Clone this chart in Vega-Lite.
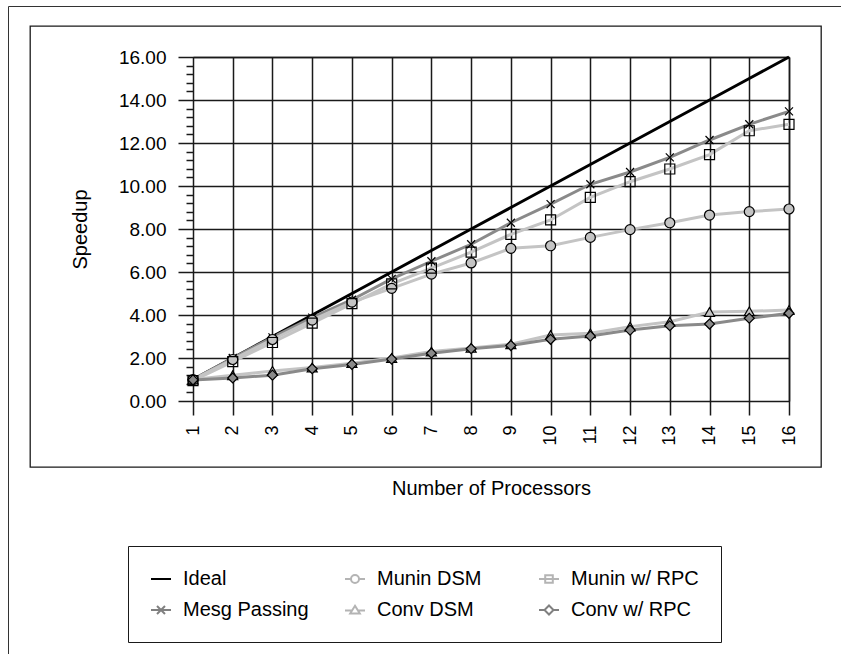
{
  "$schema": "https://vega.github.io/schema/vega-lite/v6.json",
  "autosize": "none",
  "width": 791,
  "height": 441,
  "padding": {"left": 30, "top": 26, "right": 20, "bottom": 187},
  "background": "white",
  "data": {
    "values": [
      {"n": 1, "series": "Ideal", "speedup": 1},
      {"n": 2, "series": "Ideal", "speedup": 2},
      {"n": 3, "series": "Ideal", "speedup": 3},
      {"n": 4, "series": "Ideal", "speedup": 4},
      {"n": 5, "series": "Ideal", "speedup": 5},
      {"n": 6, "series": "Ideal", "speedup": 6},
      {"n": 7, "series": "Ideal", "speedup": 7},
      {"n": 8, "series": "Ideal", "speedup": 8},
      {"n": 9, "series": "Ideal", "speedup": 9},
      {"n": 10, "series": "Ideal", "speedup": 10},
      {"n": 11, "series": "Ideal", "speedup": 11},
      {"n": 12, "series": "Ideal", "speedup": 12},
      {"n": 13, "series": "Ideal", "speedup": 13},
      {"n": 14, "series": "Ideal", "speedup": 14},
      {"n": 15, "series": "Ideal", "speedup": 15},
      {"n": 16, "series": "Ideal", "speedup": 16},
      {"n": 1, "series": "Mesg Passing", "speedup": 1.0},
      {"n": 2, "series": "Mesg Passing", "speedup": 2.0},
      {"n": 3, "series": "Mesg Passing", "speedup": 2.96},
      {"n": 4, "series": "Mesg Passing", "speedup": 3.88},
      {"n": 5, "series": "Mesg Passing", "speedup": 4.71},
      {"n": 6, "series": "Mesg Passing", "speedup": 5.68},
      {"n": 7, "series": "Mesg Passing", "speedup": 6.5},
      {"n": 8, "series": "Mesg Passing", "speedup": 7.29},
      {"n": 9, "series": "Mesg Passing", "speedup": 8.29},
      {"n": 10, "series": "Mesg Passing", "speedup": 9.16},
      {"n": 11, "series": "Mesg Passing", "speedup": 10.08},
      {"n": 12, "series": "Mesg Passing", "speedup": 10.65},
      {"n": 13, "series": "Mesg Passing", "speedup": 11.33},
      {"n": 14, "series": "Mesg Passing", "speedup": 12.14},
      {"n": 15, "series": "Mesg Passing", "speedup": 12.87},
      {"n": 16, "series": "Mesg Passing", "speedup": 13.47},
      {"n": 1, "series": "Munin DSM", "speedup": 1.0},
      {"n": 2, "series": "Munin DSM", "speedup": 1.93},
      {"n": 3, "series": "Munin DSM", "speedup": 2.86},
      {"n": 4, "series": "Munin DSM", "speedup": 3.76},
      {"n": 5, "series": "Munin DSM", "speedup": 4.6},
      {"n": 6, "series": "Munin DSM", "speedup": 5.24},
      {"n": 7, "series": "Munin DSM", "speedup": 5.9},
      {"n": 8, "series": "Munin DSM", "speedup": 6.42},
      {"n": 9, "series": "Munin DSM", "speedup": 7.1},
      {"n": 10, "series": "Munin DSM", "speedup": 7.22},
      {"n": 11, "series": "Munin DSM", "speedup": 7.61},
      {"n": 12, "series": "Munin DSM", "speedup": 7.97},
      {"n": 13, "series": "Munin DSM", "speedup": 8.29},
      {"n": 14, "series": "Munin DSM", "speedup": 8.65},
      {"n": 15, "series": "Munin DSM", "speedup": 8.81},
      {"n": 16, "series": "Munin DSM", "speedup": 8.93},
      {"n": 1, "series": "Munin w/ RPC", "speedup": 0.95},
      {"n": 2, "series": "Munin w/ RPC", "speedup": 1.83},
      {"n": 3, "series": "Munin w/ RPC", "speedup": 2.72},
      {"n": 4, "series": "Munin w/ RPC", "speedup": 3.62},
      {"n": 5, "series": "Munin w/ RPC", "speedup": 4.53},
      {"n": 6, "series": "Munin w/ RPC", "speedup": 5.45},
      {"n": 7, "series": "Munin w/ RPC", "speedup": 6.18},
      {"n": 8, "series": "Munin w/ RPC", "speedup": 6.92},
      {"n": 9, "series": "Munin w/ RPC", "speedup": 7.75},
      {"n": 10, "series": "Munin w/ RPC", "speedup": 8.42},
      {"n": 11, "series": "Munin w/ RPC", "speedup": 9.47},
      {"n": 12, "series": "Munin w/ RPC", "speedup": 10.2},
      {"n": 13, "series": "Munin w/ RPC", "speedup": 10.79},
      {"n": 14, "series": "Munin w/ RPC", "speedup": 11.46},
      {"n": 15, "series": "Munin w/ RPC", "speedup": 12.57},
      {"n": 16, "series": "Munin w/ RPC", "speedup": 12.87},
      {"n": 1, "series": "Conv DSM", "speedup": 1.0},
      {"n": 2, "series": "Conv DSM", "speedup": 1.2},
      {"n": 3, "series": "Conv DSM", "speedup": 1.4},
      {"n": 4, "series": "Conv DSM", "speedup": 1.56},
      {"n": 5, "series": "Conv DSM", "speedup": 1.76},
      {"n": 6, "series": "Conv DSM", "speedup": 2.0},
      {"n": 7, "series": "Conv DSM", "speedup": 2.3},
      {"n": 8, "series": "Conv DSM", "speedup": 2.47},
      {"n": 9, "series": "Conv DSM", "speedup": 2.64},
      {"n": 10, "series": "Conv DSM", "speedup": 3.07},
      {"n": 11, "series": "Conv DSM", "speedup": 3.15},
      {"n": 12, "series": "Conv DSM", "speedup": 3.46},
      {"n": 13, "series": "Conv DSM", "speedup": 3.69},
      {"n": 14, "series": "Conv DSM", "speedup": 4.14},
      {"n": 15, "series": "Conv DSM", "speedup": 4.17},
      {"n": 16, "series": "Conv DSM", "speedup": 4.23},
      {"n": 1, "series": "Conv w/ RPC", "speedup": 0.98},
      {"n": 2, "series": "Conv w/ RPC", "speedup": 1.07},
      {"n": 3, "series": "Conv w/ RPC", "speedup": 1.2},
      {"n": 4, "series": "Conv w/ RPC", "speedup": 1.5},
      {"n": 5, "series": "Conv w/ RPC", "speedup": 1.7},
      {"n": 6, "series": "Conv w/ RPC", "speedup": 1.95},
      {"n": 7, "series": "Conv w/ RPC", "speedup": 2.22},
      {"n": 8, "series": "Conv w/ RPC", "speedup": 2.43},
      {"n": 9, "series": "Conv w/ RPC", "speedup": 2.58},
      {"n": 10, "series": "Conv w/ RPC", "speedup": 2.87},
      {"n": 11, "series": "Conv w/ RPC", "speedup": 3.02},
      {"n": 12, "series": "Conv w/ RPC", "speedup": 3.3},
      {"n": 13, "series": "Conv w/ RPC", "speedup": 3.5},
      {"n": 14, "series": "Conv w/ RPC", "speedup": 3.58},
      {"n": 15, "series": "Conv w/ RPC", "speedup": 3.85},
      {"n": 16, "series": "Conv w/ RPC", "speedup": 4.08}
    ]
  },
  "resolve": {
    "scale": {"x": "independent", "y": "independent", "color": "independent", "shape": "independent"}
  },
  "layer": [
    {
      "mark": {"type": "line", "strokeWidth": 3, "opacity": 1},
      "encoding": {
        "x": {
          "field": "n", "type": "quantitative",
          "scale": {"domain": [1, 16], "range": [163, 759], "nice": false, "zero": false},
          "axis": {
            "orient": "bottom", "offset": -410,
            "values": [1,2,3,4,5,6,7,8,9,10,11,12,13,14,15,16],
            "format": "d", "labelAngle": -90, "labelFlush": false,
            "tickSize": 358, "labelPadding": 10, "labelFontSize": 18,
            "grid": false, "maxExtent": 1000,
            "title": "Number of Processors", "titleFontSize": 20, "titlePadding": 33
          }
        },
        "y": {
          "field": "speedup", "type": "quantitative",
          "scale": {"domain": [0, 16], "range": [375, 31], "nice": false, "zero": false},
          "axis": {
            "orient": "left", "offset": -759,
            "values": [0,2,4,6,8,10,12,14,16],
            "format": ".2f", "labelFlush": false,
            "tickSize": 611, "labelPadding": 12, "labelFontSize": 19,
            "grid": false, "maxExtent": 1000,
            "title": "Speedup", "titleFontSize": 20, "titlePadding": 28
          }
        },
        "color": {
          "field": "series", "type": "nominal",
          "scale": {
            "domain": ["Ideal", "Mesg Passing", "Munin DSM", "Conv DSM", "Munin w/ RPC", "Conv w/ RPC"],
            "range": ["#000000", "#8a8a8a", "#c4c4c4", "#c4c4c4", "#c4c4c4", "#8a8a8a"]
          },
          "legend": null
        }
      }
    },
    {
      "transform": [{"filter": "datum.series !== 'Ideal'"}],
      "mark": {"type": "point", "filled": true, "size": 100, "stroke": "black", "strokeWidth": 1.2, "opacity": 1},
      "encoding": {
        "x": {
          "field": "n", "type": "quantitative",
          "scale": {"domain": [1, 16], "range": [163, 759], "nice": false, "zero": false},
          "axis": null
        },
        "y": {
          "field": "speedup", "type": "quantitative",
          "scale": {"domain": [0, 16], "range": [375, 31], "nice": false, "zero": false},
          "axis": {
            "orient": "left", "offset": -163,
            "values": [0.4,0.8,1.2,1.6,2.4,2.8,3.2,3.6,4.4,4.8,5.2,5.6,6.4,6.8,7.2,7.6,8.4,8.8,9.2,9.6,10.4,10.8,11.2,11.6,12.4,12.8,13.2,13.6,14.4,14.8,15.2,15.6],
            "tickSize": 7, "labels": false, "domain": false, "grid": false, "title": null
          }
        },
        "shape": {
          "field": "series", "type": "nominal",
          "scale": {
            "domain": ["Ideal", "Mesg Passing", "Munin DSM", "Conv DSM", "Munin w/ RPC", "Conv w/ RPC"],
            "range": ["M0,0", "M-0.8,-0.8L0.8,0.8M-0.8,0.8L0.8,-0.8", "circle", "triangle-up", "square", "diamond"]
          },
          "legend": null
        },
        "fill": {
          "field": "series", "type": "nominal",
          "scale": {
            "domain": ["Ideal", "Mesg Passing", "Munin DSM", "Conv DSM", "Munin w/ RPC", "Conv w/ RPC"],
            "range": ["transparent", "transparent", "#c4c4c4", "#c4c4c4", "transparent", "#8a8a8a"]
          },
          "legend": null
        }
      }
    },
    {
      "mark": {"type": "point", "opacity": 0},
      "encoding": {
        "x": {
          "field": "n", "type": "quantitative",
          "scale": {"domain": [1, 16], "range": [-22, 1000], "nice": false, "zero": false},
          "axis": {"orient": "top", "offset": 20, "ticks": false, "labels": false, "grid": false, "title": null, "domainWidth": 1, "domainColor": "#333333"}
        },
        "y": {
          "field": "speedup", "type": "quantitative",
          "scale": {"domain": [0, 16], "range": [1000, -20], "nice": false, "zero": false},
          "axis": {"orient": "left", "offset": 22, "ticks": false, "labels": false, "grid": false, "title": null, "domainWidth": 1, "domainColor": "#333333"}
        }
      }
    },
    {
      "transform": [{"filter": "false"}],
      "mark": {"type": "point", "filled": false, "strokeWidth": 2, "opacity": 1},
      "encoding": {
        "color": {
          "field": "series", "type": "nominal",
          "scale": {
            "domain": ["Ideal", "Mesg Passing", "Munin DSM", "Conv DSM", "Munin w/ RPC", "Conv w/ RPC"],
            "range": ["#000000", "#808080", "#b4b4b4", "#b4b4b4", "#b4b4b4", "#808080"]
          },
          "legend": {
            "orient": "none", "legendX": 98, "legendY": 520,
            "title": null, "columns": 3, "gridAlign": "all",
            "columnPadding": 30, "rowPadding": 10, "padding": 22,
            "labelOffset": 11, "labelFontSize": 20, "labelColor": "black",
            "symbolSize": 400, "symbolStrokeWidth": 2,
            "strokeColor": "#1a1a1a"
          }
        },
        "shape": {
          "field": "series", "type": "nominal",
          "scale": {
            "domain": ["Ideal", "Mesg Passing", "Munin DSM", "Conv DSM", "Munin w/ RPC", "Conv w/ RPC"],
            "range": [
              "M-1,0H1",
              "M-1,0H1M-0.4,-0.4L0.4,0.4M-0.4,0.4L0.4,-0.4",
              "M-1,0H-0.4M0.4,0H1M-0.4,0A0.4,0.4,0,1,1,0.4,0A0.4,0.4,0,1,1,-0.4,0Z",
              "M-1,0.05H-0.3M0.3,0.05H1M0,-0.42L0.48,0.36L-0.48,0.36Z",
              "M-1,0H1M-0.38,-0.38H0.38V0.38H-0.38Z",
              "M-1,0H-0.45M0.45,0H1M0,-0.45L0.45,0L0,0.45L-0.45,0Z"
            ]
          },
          "legend": {
            "orient": "none", "legendX": 98, "legendY": 520,
            "title": null, "columns": 3, "gridAlign": "all",
            "columnPadding": 30, "rowPadding": 10, "padding": 22,
            "labelOffset": 11, "labelFontSize": 20, "labelColor": "black",
            "symbolSize": 400, "symbolStrokeWidth": 2,
            "strokeColor": "#1a1a1a"
          }
        }
      }
    }
  ],
  "config": {
    "font": "Liberation Sans",
    "view": {"stroke": "#1a1a1a", "strokeWidth": 1.3},
    "axis": {
      "domainColor": "#1a1a1a", "tickColor": "#1a1a1a",
      "domainWidth": 1.5, "tickWidth": 1.5,
      "labelColor": "black", "titleColor": "black",
      "labelFont": "Liberation Sans", "titleFont": "Liberation Sans", "titleFontWeight": "normal"
    },
    "legend": {"labelFont": "Liberation Sans"}
  }
}
